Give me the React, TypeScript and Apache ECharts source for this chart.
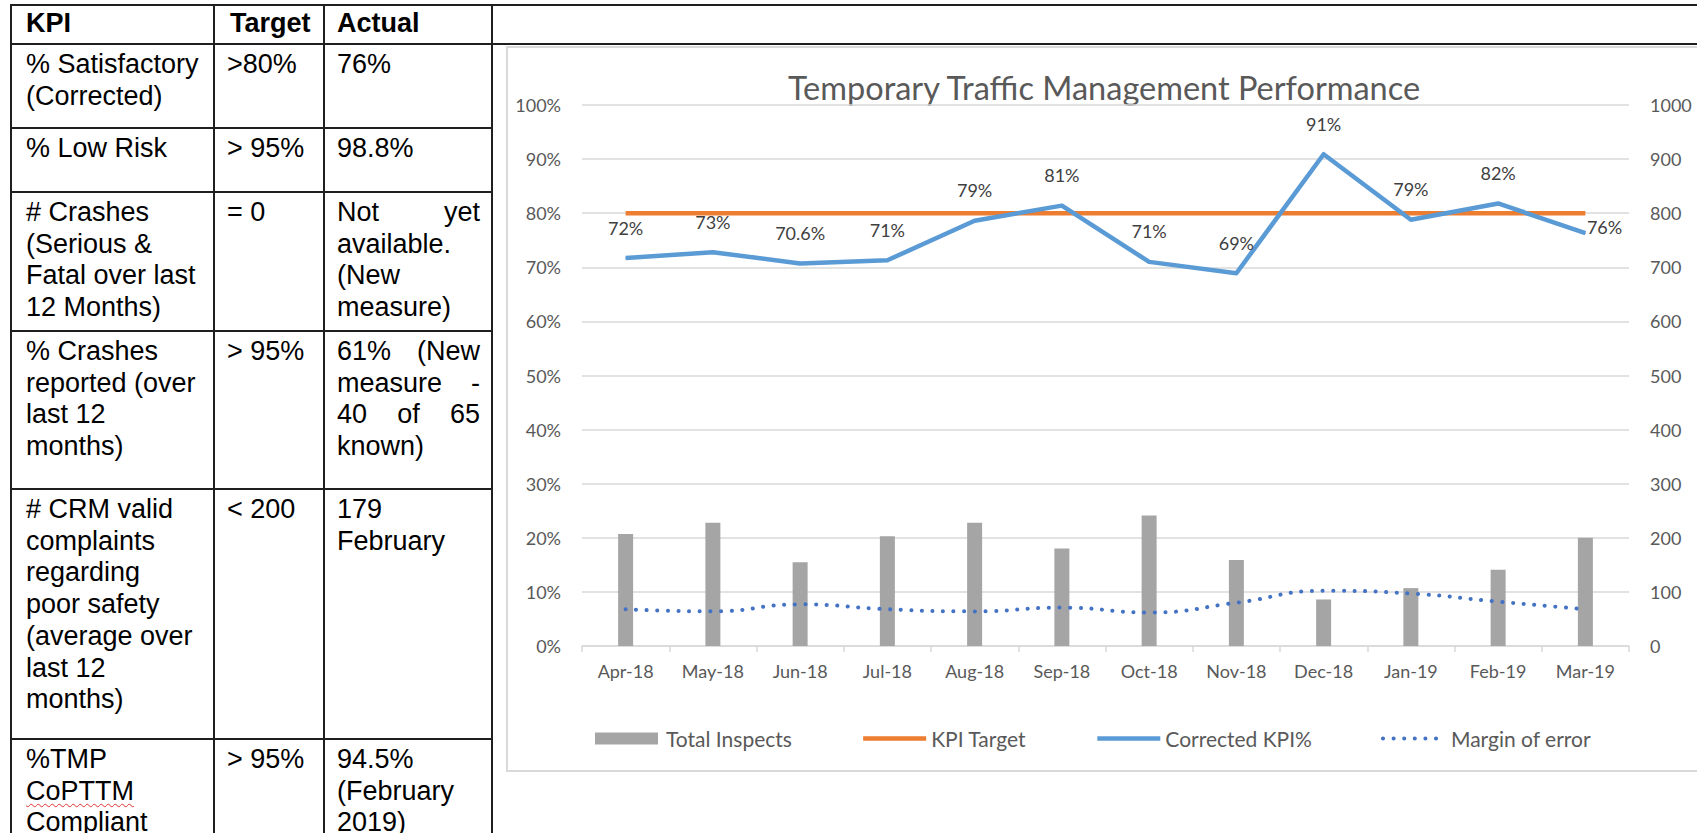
import React, { useEffect, useRef } from "react";
import * as echarts from "echarts";

// ---------- data ----------
const categories = ["Apr-18", "May-18", "Jun-18", "Jul-18", "Aug-18", "Sep-18", "Oct-18", "Nov-18", "Dec-18", "Jan-19", "Feb-19", "Mar-19"];
const totalInspects = [207, 228, 155, 203, 228, 180, 241, 159, 86, 107, 141, 200];
const kpiTarget = [80, 80, 80, 80, 80, 80, 80, 80, 80, 80, 80, 80];
const correctedKpi = [71.7, 72.8, 70.7, 71.3, 78.6, 81.4, 71.0, 68.9, 90.9, 78.8, 81.8, 76.3];
const correctedLabels = ["72%", "73%", "70.6%", "71%", "79%", "81%", "71%", "69%", "91%", "79%", "82%", "76%"];
const marginOfError = [6.8, 6.4, 7.7, 6.8, 6.4, 7.1, 6.2, 8.0, 10.2, 9.7, 8.2, 6.8];
const seriesNames = ["Total Inspects", "KPI Target", "Corrected KPI%", "Margin of error"];
const chartTitle = "Temporary Traffic Management Performance";

const tableHeader = ["KPI", "Target", "Actual"];
const kpiCol = [
  ["% Satisfactory", "(Corrected)"],
  ["% Low Risk"],
  ["# Crashes", "(Serious &", "Fatal over last", "12 Months)"],
  ["% Crashes", "reported (over", "last 12", "months)"],
  ["# CRM valid", "complaints", "regarding", "poor safety", "(average over", "last 12", "months)"],
  ["%TMP", "CoPTTM", "Compliant"],
];
const targetCol = [[">80%"], ["> 95%"], ["= 0"], ["> 95%"], ["< 200"], ["> 95%"]];
const actualCol = [
  ["76%"],
  ["98.8%"],
  ["Not yet", "available.", "(New", "measure)"],
  ["61% (New", "measure -", "40 of 65", "known)"],
  ["179", "February"],
  ["94.5%", "(February", "2019)"],
];
const justifiedLines = ["Not yet", "61% (New", "measure -", "40 of 65"];
const misspelled = ["CoPTTM"];

// ---------- layout ----------
const rowLines = [44, 128, 192, 331, 489, 739];
const colLines = [11, 214, 324, 492];
const LINE_H = 31.7;
const FONT = "'Liberation Sans', Arial, sans-serif";

function Chart() {
  const ref = useRef<HTMLDivElement>(null);
  useEffect(() => {
    if (!ref.current) return;
    const chart = echarts.init(ref.current, undefined, { renderer: "svg" });
    const axisText = { color: "#595959", fontSize: 18, fontFamily: "Lato" };
    const last = correctedKpi.length - 1;
    const dotted = { color: "#4472c4", width: 4, type: [0.1, 10.5], cap: "round" };
    chart.setOption({
      animation: false,
      textStyle: { fontFamily: "Lato" },
      graphic: [
        {
          type: "text",
          x: 598,
          y: 40,
          style: {
            text: chartTitle,
            fill: "#595959",
            fontSize: 32.5,
            fontFamily: "Lato",
            align: "center",
            verticalAlign: "middle",
          },
        },
      ],
      legend: {
        left: 84,
        top: 676,
        itemWidth: 63,
        itemHeight: 12,
        itemGap: 69,
        textStyle: { color: "#595959", fontSize: 21, fontFamily: "Lato", padding: [0, 0, 0, 0] },
        data: [
          { name: seriesNames[0], icon: "rect", textStyle: { padding: [0, 0, 0, 3] } },
          { name: seriesNames[1], itemStyle: { opacity: 0 }, lineStyle: { width: 4.5, color: "#ed7d31" } },
          { name: seriesNames[2], itemStyle: { opacity: 0 }, lineStyle: { width: 4.5, color: "#5b9bd5" } },
          { name: seriesNames[3], itemStyle: { opacity: 0 }, lineStyle: dotted },
        ],
      },
      grid: { left: 76, top: 58, width: 1047, height: 541 },
      xAxis: {
        type: "category",
        data: categories,
        boundaryGap: true,
        axisLine: { lineStyle: { color: "#d9d9d9", width: 1.5 } },
        axisTick: { show: true, length: 6, lineStyle: { color: "#d9d9d9", width: 1.5 } },
        axisLabel: { ...axisText, margin: 16, interval: 0 },
      },
      yAxis: [
        {
          type: "value",
          min: 0,
          max: 100,
          interval: 10,
          axisLine: { show: false },
          axisTick: { show: false },
          axisLabel: { ...axisText, margin: 21, formatter: "{value}%" },
          splitLine: { lineStyle: { color: "#d9d9d9", width: 1.5 } },
        },
        {
          type: "value",
          min: 0,
          max: 1000,
          interval: 100,
          position: "right",
          axisLine: { show: false },
          axisTick: { show: false },
          axisLabel: { ...axisText, margin: 21, formatter: (v: number) => String(v) },
          splitLine: { show: false },
        },
      ],
      series: [
        {
          name: seriesNames[0],
          type: "bar",
          yAxisIndex: 1,
          data: totalInspects,
          barWidth: 15,
          itemStyle: { color: "#a5a5a5" },
        },
        {
          name: seriesNames[1],
          type: "line",
          yAxisIndex: 0,
          data: kpiTarget,
          symbol: "none",
          lineStyle: { color: "#ed7d31", width: 4.5 },
          itemStyle: { color: "#ed7d31" },
        },
        {
          name: seriesNames[2],
          type: "line",
          yAxisIndex: 0,
          data: correctedKpi.map((v, i) =>
            i === last
              ? { value: v, label: { position: "right", distance: 1, offset: [0, -6] } }
              : { value: v }
          ),
          symbol: "circle",
          symbolSize: 1,
          showSymbol: true,
          lineStyle: { color: "#5b9bd5", width: 4.5, join: "round" },
          itemStyle: { color: "#5b9bd5" },
          label: {
            show: true,
            position: "top",
            distance: 21,
            color: "#404040",
            fontSize: 18,
            fontFamily: "Lato",
            formatter: (p: any) => correctedLabels[p.dataIndex],
          },
        },
        {
          name: seriesNames[3],
          type: "line",
          yAxisIndex: 0,
          data: marginOfError,
          smooth: true,
          symbol: "none",
          lineStyle: dotted,
          itemStyle: { color: "#4472c4" },
        },
      ],
    });
    return () => chart.dispose();
  }, []);
  return <div ref={ref} style={{ position: "absolute", left: 506, top: 47, width: 1260, height: 724 }} />;
}

function Cell({ lines, left, top, width, bold }: { lines: string[]; left: number; top: number; width: number; bold?: boolean }) {
  return (
    <div style={{ position: "absolute", left, top, width, fontFamily: FONT, fontSize: 27, lineHeight: `${LINE_H}px`, color: "#000", fontWeight: bold ? 700 : 400 }}>
      {lines.map((t, i) => {
        const just = justifiedLines.includes(t);
        const miss = misspelled.includes(t);
        return (
          <div
            key={i}
            style={{
              whiteSpace: "nowrap",
              textAlign: just ? "justify" : "left",
              textAlignLast: just ? "justify" : "auto",
            } as React.CSSProperties}
          >
            {miss ? (
              <span style={{ textDecorationLine: "underline", textDecorationStyle: "wavy", textDecorationColor: "#e03030", textDecorationThickness: "1px", textUnderlineOffset: "3px" } as React.CSSProperties}>{t}</span>
            ) : (
              t
            )}
          </div>
        );
      })}
    </div>
  );
}

export default function App() {
  const lineColor = "#1f1f1f";
  return (
    <div style={{ position: "fixed", left: 0, top: 0, width: 1697, height: 833, background: "#fff", overflow: "hidden" }}>
      {/* horizontal lines */}
      <div style={{ position: "absolute", left: 10, top: 4, width: 1700, height: 2, background: lineColor }} />
      <div style={{ position: "absolute", left: 10, top: 43, width: 1700, height: 2, background: lineColor }} />
      {rowLines.slice(1).map((y) => (
        <div key={y} style={{ position: "absolute", left: 10, top: y - 1, width: 483, height: 2, background: lineColor }} />
      ))}
      {/* vertical lines */}
      {colLines.map((x) => (
        <div key={x} style={{ position: "absolute", left: x - 1, top: 4, width: 2, height: 840, background: lineColor }} />
      ))}
      {/* header */}
      <Cell lines={[tableHeader[0]]} left={26} top={8} width={180} bold />
      <Cell lines={[tableHeader[1]]} left={230} top={8} width={90} bold />
      <Cell lines={[tableHeader[2]]} left={337} top={8} width={142} bold />
      {kpiCol.map((lines, r) => (
        <React.Fragment key={r}>
          <Cell lines={lines} left={26} top={rowLines[r] + 5} width={185} />
          <Cell lines={targetCol[r]} left={227} top={rowLines[r] + 5} width={95} />
          <Cell lines={actualCol[r]} left={337} top={rowLines[r] + 5} width={143} />
        </React.Fragment>
      ))}
      {/* chart box */}
      <div style={{ position: "absolute", left: 506, top: 46, width: 1300, height: 726, border: "2px solid #d9d9d9", boxSizing: "border-box" }} />
      <Chart />
    </div>
  );
}
